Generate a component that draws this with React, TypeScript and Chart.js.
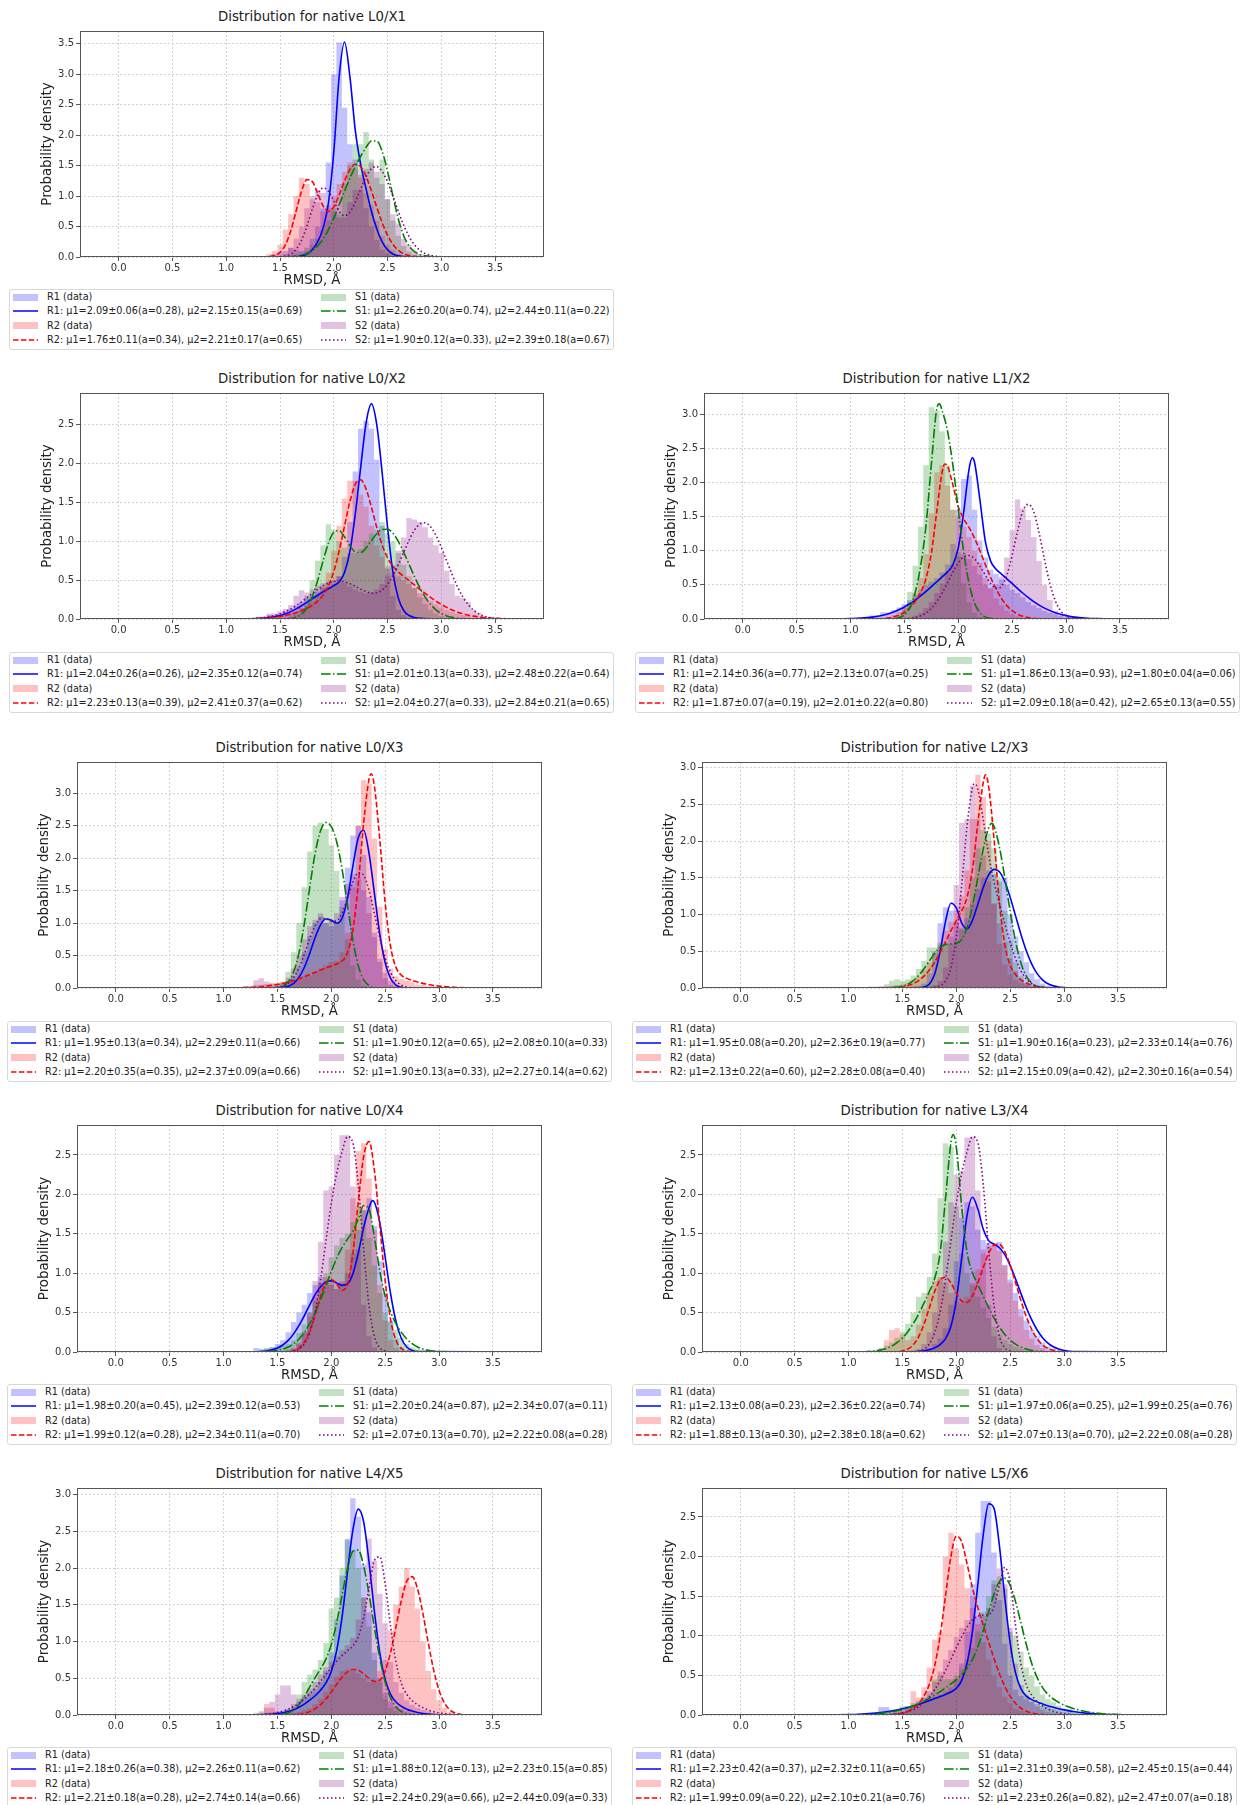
import React, { useEffect, useRef } from "react";
import { Chart, registerables } from "chart.js";

Chart.register(...registerables);

type P = [number, number][];

// ---------------- shared axis values ----------------
const X_TICKS = [0, 0.5, 1, 1.5, 2, 2.5, 3, 3.5];
const X_MIN = -0.36;
const X_MAX = 3.955;
const Y_TICKS_35 = [0, 0.5, 1, 1.5, 2, 2.5, 3, 3.5];
const Y_TICKS_30 = [0, 0.5, 1, 1.5, 2, 2.5, 3];
const Y_TICKS_25 = [0, 0.5, 1, 1.5, 2, 2.5];
const HIST_BIN = 0.05;
const SERIES = ["R1", "R2", "S1", "S2"];

// ---------------- L0/X1 ----------------
const L0X1_R1_HIST: P = [[1.45,.03],[1.5,.05],[1.55,.08],[1.6,.1],[1.65,.15],[1.7,.12],[1.75,.1],[1.8,.15],[1.85,.3],[1.9,.5],[1.95,.8],[2.0,1.55],[2.05,3.0],[2.1,3.52],[2.15,2.45],[2.2,1.85],[2.25,1.6],[2.3,1.1],[2.35,.8],[2.4,.5],[2.45,.28],[2.5,.12],[2.55,.06],[2.6,.03]];
const L0X1_R2_HIST: P = [[1.4,.02],[1.45,.05],[1.5,.1],[1.55,.2],[1.6,.45],[1.65,.7],[1.7,1.0],[1.75,1.3],[1.8,1.2],[1.85,.95],[1.9,.9],[1.95,.75],[2.0,.8],[2.05,1.0],[2.1,1.2],[2.15,1.4],[2.2,1.55],[2.25,1.45],[2.3,1.3],[2.35,1.05],[2.4,.85],[2.45,.6],[2.5,.35],[2.55,.2],[2.6,.12],[2.65,.05],[2.7,.02]];
const L0X1_S1_HIST: P = [[1.6,.01],[1.65,.02],[1.7,.04],[1.75,.06],[1.8,.1],[1.85,.2],[1.9,.3],[1.95,.45],[2.0,.6],[2.05,.8],[2.1,.7],[2.15,1.2],[2.2,1.5],[2.25,1.85],[2.3,1.85],[2.35,2.05],[2.4,1.6],[2.45,1.3],[2.5,1.6],[2.55,.95],[2.6,.6],[2.65,.35],[2.7,.18],[2.75,.09],[2.8,.04],[2.85,.02]];
const L0X1_S2_HIST: P = [[1.55,.02],[1.6,.05],[1.65,.15],[1.7,.3],[1.75,.5],[1.8,.8],[1.85,1.0],[1.9,1.1],[1.95,1.05],[2.0,.85],[2.05,.75],[2.1,.65],[2.15,.65],[2.2,.9],[2.25,1.1],[2.3,1.35],[2.35,1.45],[2.4,1.55],[2.45,1.4],[2.5,1.2],[2.55,.95],[2.6,.7],[2.65,.55],[2.7,.3],[2.75,.2],[2.8,.1],[2.85,.05],[2.9,.02]];
const L0X1_R1_FIT: P = [[1.65,.005],[1.7,.02],[1.75,.05],[1.8,.12],[1.85,.25],[1.9,.47],[1.95,.88],[2.0,1.72],[2.05,2.96],[2.1,3.53],[2.15,2.96],[2.2,2.08],[2.25,1.52],[2.3,1.12],[2.35,.75],[2.4,.46],[2.45,.25],[2.5,.12],[2.55,.05],[2.6,.02],[2.7,.004]];
const L0X1_R2_FIT: P = [[1.35,.002],[1.4,.01],[1.45,.023],[1.5,.075],[1.55,.2],[1.6,.43],[1.65,.755],[1.7,1.08],[1.75,1.27],[1.8,1.24],[1.85,1.045],[1.9,.84],[1.95,.75],[2.0,.825],[2.05,1.02],[2.1,1.25],[2.15,1.435],[2.2,1.522],[2.25,1.484],[2.3,1.326],[2.35,1.086],[2.4,.816],[2.45,.563],[2.5,.356],[2.55,.206],[2.6,.11],[2.65,.054],[2.7,.024],[2.75,.01],[2.8,.004]];
const L0X1_S1_FIT: P = [[1.55,.003],[1.6,.006],[1.65,.014],[1.7,.029],[1.75,.057],[1.8,.105],[1.85,.181],[1.9,.292],[1.95,.444],[2.0,.634],[2.05,.853],[2.1,1.08],[2.15,1.294],[2.2,1.485],[2.25,1.654],[2.3,1.8],[2.35,1.905],[2.4,1.903],[2.45,1.735],[2.5,1.407],[2.55,1.0],[2.6,.625],[2.65,.35],[2.7,.18],[2.75,.088],[2.8,.042],[2.85,.019],[2.9,.009],[2.95,.004],[3.0,.002]];
const L0X1_S2_FIT: P = [[1.45,.001],[1.5,.004],[1.55,.016],[1.6,.048],[1.65,.125],[1.7,.274],[1.75,.505],[1.8,.783],[1.85,1.022],[1.9,1.134],[1.95,1.081],[2.0,.918],[2.05,.751],[2.1,.678],[2.15,.736],[2.2,.899],[2.25,1.114],[2.3,1.315],[2.35,1.449],[2.4,1.483],[2.45,1.405],[2.5,1.232],[2.55,1.0],[2.6,.752],[2.65,.523],[2.7,.337],[2.75,.201],[2.8,.111],[2.85,.057],[2.9,.027],[2.95,.012],[3.0,.005]];
const L0X1_LABELS = ["R1: μ1=2.09±0.06(a=0.28), μ2=2.15±0.15(a=0.69)", "R2: μ1=1.76±0.11(a=0.34), μ2=2.21±0.17(a=0.65)", "S1: μ1=2.26±0.20(a=0.74), μ2=2.44±0.11(a=0.22)", "S2: μ1=1.90±0.12(a=0.33), μ2=2.39±0.18(a=0.67)"];

// ---------------- L0/X2 ----------------
const L0X2_R1_HIST: P = [[1.3,.01],[1.4,.02],[1.5,.05],[1.55,.07],[1.6,.1],[1.65,.13],[1.7,.17],[1.75,.22],[1.8,.27],[1.85,.3],[1.9,.35],[1.95,.4],[2.0,.42],[2.05,.45],[2.1,.55],[2.15,.8],[2.2,1.25],[2.25,1.9],[2.3,2.45],[2.35,2.55],[2.4,2.45],[2.45,2.05],[2.5,1.2],[2.55,.65],[2.6,.3],[2.65,.12],[2.7,.05],[2.75,.02]];
const L0X2_R2_HIST: P = [[1.4,.02],[1.5,.03],[1.55,.05],[1.6,.06],[1.65,.08],[1.7,.1],[1.75,.14],[1.8,.18],[1.85,.23],[1.9,.3],[1.95,.42],[2.0,.6],[2.05,.88],[2.1,1.2],[2.15,1.55],[2.2,1.78],[2.25,1.78],[2.3,1.6],[2.35,1.45],[2.4,1.2],[2.45,.95],[2.5,.8],[2.55,.68],[2.6,.6],[2.65,.55],[2.7,.5],[2.75,.45],[2.8,.4],[2.85,.33],[2.9,.28],[2.95,.23],[3.0,.19],[3.05,.15],[3.1,.12],[3.15,.09],[3.2,.07],[3.25,.05],[3.3,.04],[3.4,.02],[3.5,.01]];
const L0X2_S1_HIST: P = [[1.6,.01],[1.65,.03],[1.7,.06],[1.75,.14],[1.8,.3],[1.85,.5],[1.9,.75],[1.95,.95],[2.0,1.22],[2.05,1.15],[2.1,1.0],[2.15,.92],[2.2,.85],[2.25,.85],[2.3,.9],[2.35,1.0],[2.4,1.1],[2.45,1.15],[2.5,1.25],[2.55,1.1],[2.6,1.0],[2.65,.85],[2.7,.7],[2.75,.55],[2.8,.4],[2.85,.28],[2.9,.19],[2.95,.12],[3.0,.07],[3.05,.04],[3.1,.02]];
const L0X2_S2_HIST: P = [[1.3,.01],[1.4,.03],[1.5,.07],[1.55,.1],[1.6,.13],[1.65,.18],[1.7,.3],[1.75,.37],[1.8,.34],[1.85,.38],[1.9,.43],[1.95,.46],[2.0,.48],[2.05,.5],[2.1,.55],[2.15,.47],[2.2,.42],[2.25,.38],[2.3,.35],[2.35,.33],[2.4,.34],[2.45,.38],[2.5,.45],[2.55,.56],[2.6,.7],[2.65,.88],[2.7,1.05],[2.75,1.3],[2.8,1.28],[2.85,1.25],[2.9,1.18],[2.95,1.05],[3.0,.95],[3.05,.85],[3.1,.62],[3.15,.45],[3.2,.3],[3.25,.27],[3.3,.22],[3.35,.12],[3.4,.08],[3.45,.03],[3.5,.01]];
const L0X2_R1_FIT: P = [[1.1,.001],[1.2,.002],[1.3,.007],[1.4,.019],[1.5,.046],[1.55,.067],[1.6,.095],[1.65,.13],[1.7,.17],[1.75,.214],[1.8,.261],[1.85,.306],[1.9,.35],[1.95,.39],[2.0,.43],[2.05,.48],[2.1,.6],[2.15,.87],[2.2,1.35],[2.25,1.95],[2.3,2.52],[2.35,2.77],[2.4,2.5],[2.45,1.88],[2.5,1.18],[2.55,.6],[2.6,.27],[2.65,.11],[2.7,.045],[2.75,.02],[2.8,.008],[2.9,.002]];
const L0X2_R2_FIT: P = [[1.2,.003],[1.3,.007],[1.4,.016],[1.5,.032],[1.55,.045],[1.6,.061],[1.65,.081],[1.7,.106],[1.75,.137],[1.8,.177],[1.85,.23],[1.9,.307],[1.95,.427],[2.0,.612],[2.05,.876],[2.1,1.197],[2.15,1.513],[2.2,1.735],[2.25,1.792],[2.3,1.675],[2.35,1.442],[2.4,1.177],[2.45,.951],[2.5,.787],[2.55,.68],[2.6,.607],[2.65,.548],[2.7,.492],[2.75,.438],[2.8,.383],[2.85,.33],[2.9,.278],[2.95,.23],[3.0,.187],[3.05,.15],[3.1,.117],[3.2,.068],[3.3,.037],[3.4,.019],[3.5,.009],[3.6,.004],[3.7,.002],[3.8,.001]];
const L0X2_S1_FIT: P = [[1.5,.001],[1.55,.002],[1.6,.007],[1.65,.023],[1.7,.061],[1.75,.142],[1.8,.285],[1.85,.494],[1.9,.744],[1.95,.974],[2.0,1.117],[2.05,1.138],[2.1,1.058],[2.15,.944],[2.2,.864],[2.25,.856],[2.3,.915],[2.35,1.008],[2.4,1.097],[2.45,1.153],[2.5,1.156],[2.55,1.104],[2.6,1.0],[2.65,.861],[2.7,.704],[2.75,.547],[2.8,.403],[2.85,.282],[2.9,.188],[2.95,.118],[3.0,.071],[3.05,.04],[3.1,.022],[3.2,.005],[3.3,.001]];
const L0X2_S2_FIT: P = [[1.1,.001],[1.2,.004],[1.3,.011],[1.4,.029],[1.5,.066],[1.55,.094],[1.6,.129],[1.65,.172],[1.7,.221],[1.75,.274],[1.8,.329],[1.85,.38],[1.9,.426],[1.95,.461],[2.0,.482],[2.05,.488],[2.1,.479],[2.15,.455],[2.2,.421],[2.25,.384],[2.3,.352],[2.35,.333],[2.4,.337],[2.45,.374],[2.5,.447],[2.55,.558],[2.6,.7],[2.65,.858],[2.7,1.014],[2.75,1.142],[2.8,1.222],[2.85,1.239],[2.9,1.188],[2.95,1.077],[3.0,.924],[3.05,.749],[3.1,.574],[3.15,.416],[3.2,.284],[3.25,.184],[3.3,.112],[3.35,.065],[3.4,.035],[3.45,.018],[3.5,.009],[3.6,.002]];
const L0X2_LABELS = ["R1: μ1=2.04±0.26(a=0.26), μ2=2.35±0.12(a=0.74)", "R2: μ1=2.23±0.13(a=0.39), μ2=2.41±0.37(a=0.62)", "S1: μ1=2.01±0.13(a=0.33), μ2=2.48±0.22(a=0.64)", "S2: μ1=2.04±0.27(a=0.33), μ2=2.84±0.21(a=0.65)"];

// ---------------- L1/X2 ----------------
const L1X2_R1_HIST: P = [[1.1,.01],[1.2,.03],[1.3,.05],[1.4,.1],[1.45,.13],[1.5,.17],[1.55,.22],[1.6,.28],[1.65,.35],[1.7,.42],[1.75,.5],[1.8,.55],[1.85,.6],[1.9,.68],[1.95,.8],[2.0,1.1],[2.05,1.6],[2.1,2.05],[2.15,2.1],[2.2,1.6],[2.25,1.15],[2.3,.9],[2.35,.72],[2.4,.66],[2.45,.58],[2.5,.5],[2.55,.43],[2.6,.38],[2.65,.32],[2.7,.25],[2.75,.2],[2.8,.16],[2.85,.12],[2.9,.09],[2.95,.07],[3.0,.05],[3.05,.04],[3.1,.03],[3.2,.01]];
const L1X2_R2_HIST: P = [[1.35,.02],[1.4,.03],[1.45,.06],[1.5,.1],[1.55,.16],[1.6,.25],[1.65,.38],[1.7,.6],[1.75,.95],[1.8,1.55],[1.85,2.15],[1.9,2.25],[1.95,1.95],[2.0,1.6],[2.05,1.5],[2.1,1.35],[2.15,1.2],[2.2,1.0],[2.25,.82],[2.3,.6],[2.35,.45],[2.4,.3],[2.45,.2],[2.5,.12],[2.55,.07],[2.6,.04],[2.65,.02]];
const L1X2_S1_HIST: P = [[1.45,.02],[1.5,.06],[1.55,.17],[1.6,.4],[1.65,.78],[1.7,1.35],[1.75,2.25],[1.8,3.1],[1.85,3.05],[1.9,2.75],[1.95,2.25],[2.0,1.6],[2.05,.98],[2.1,.52],[2.15,.24],[2.2,.09],[2.25,.03],[2.3,.01]];
const L1X2_S2_HIST: P = [[1.55,.01],[1.6,.02],[1.65,.05],[1.7,.09],[1.75,.16],[1.8,.25],[1.85,.38],[1.9,.52],[1.95,.68],[2.0,.8],[2.05,.92],[2.1,.95],[2.15,.88],[2.2,.78],[2.25,.65],[2.3,.5],[2.35,.45],[2.4,.5],[2.45,.62],[2.5,.9],[2.55,1.3],[2.6,1.75],[2.65,1.62],[2.7,1.45],[2.75,1.2],[2.8,.85],[2.85,.5],[2.9,.28],[2.95,.12],[3.0,.05],[3.05,.02]];
const L1X2_R1_FIT: P = [[0.9,.002],[1.0,.006],[1.1,.013],[1.2,.028],[1.3,.056],[1.4,.103],[1.5,.176],[1.55,.223],[1.6,.277],[1.65,.338],[1.7,.404],[1.75,.474],[1.8,.546],[1.85,.617],[1.9,.69],[1.95,.794],[2.0,1.045],[2.05,1.568],[2.1,2.2],[2.13,2.36],[2.15,2.3],[2.2,1.75],[2.25,1.142],[2.3,.848],[2.35,.73],[2.4,.658],[2.45,.589],[2.5,.518],[2.55,.446],[2.6,.377],[2.65,.313],[2.7,.254],[2.75,.203],[2.8,.159],[2.9,.092],[3.0,.049],[3.1,.024],[3.2,.011],[3.3,.005],[3.4,.002]];
const L1X2_R2_FIT: P = [[1.25,.004],[1.3,.008],[1.35,.016],[1.4,.031],[1.45,.057],[1.5,.099],[1.55,.163],[1.6,.256],[1.65,.389],[1.7,.594],[1.75,.971],[1.8,1.577],[1.85,2.154],[1.875,2.27],[1.9,2.24],[1.95,1.96],[2.0,1.642],[2.05,1.467],[2.1,1.339],[2.15,1.185],[2.2,.999],[2.25,.8],[2.3,.608],[2.35,.44],[2.4,.301],[2.45,.196],[2.5,.121],[2.55,.071],[2.6,.04],[2.65,.021],[2.7,.011],[2.75,.005],[2.8,.002]];
const L1X2_S1_FIT: P = [[1.35,.001],[1.4,.005],[1.45,.02],[1.5,.062],[1.55,.166],[1.6,.386],[1.65,.775],[1.7,1.365],[1.75,2.27],[1.8,3.08],[1.825,3.15],[1.85,3.05],[1.9,2.75],[1.95,2.247],[2.0,1.598],[2.05,.982],[2.1,.519],[2.15,.237],[2.2,.093],[2.25,.031],[2.3,.009],[2.35,.002]];
const L1X2_S2_FIT: P = [[1.45,.001],[1.5,.004],[1.55,.01],[1.6,.023],[1.65,.047],[1.7,.089],[1.75,.156],[1.8,.254],[1.85,.383],[1.9,.533],[1.95,.688],[2.0,.822],[2.05,.909],[2.1,.929],[2.15,.882],[2.2,.777],[2.25,.643],[2.3,.516],[2.35,.446],[2.4,.477],[2.45,.642],[2.5,.938],[2.55,1.291],[2.6,1.585],[2.65,1.68],[2.7,1.571],[2.75,1.256],[2.8,.868],[2.85,.516],[2.9,.266],[2.95,.118],[3.0,.045],[3.05,.015],[3.1,.004]];
const L1X2_LABELS = ["R1: μ1=2.14±0.36(a=0.77), μ2=2.13±0.07(a=0.25)", "R2: μ1=1.87±0.07(a=0.19), μ2=2.01±0.22(a=0.80)", "S1: μ1=1.86±0.13(a=0.93), μ2=1.80±0.04(a=0.06)", "S2: μ1=2.09±0.18(a=0.42), μ2=2.65±0.13(a=0.55)"];

// ---------------- L0/X3 ----------------
const L0X3_R1_HIST: P = [[1.45,.01],[1.5,.02],[1.55,.03],[1.6,.05],[1.65,.1],[1.7,.18],[1.75,.32],[1.8,.55],[1.85,.8],[1.9,1.0],[1.95,1.1],[2.0,1.0],[2.05,.95],[2.1,1.0],[2.15,1.35],[2.2,1.85],[2.25,2.35],[2.3,2.5],[2.35,2.05],[2.4,1.4],[2.45,.85],[2.5,.4],[2.55,.15],[2.6,.05],[2.65,.02]];
const L0X3_R2_HIST: P = [[1.2,.01],[1.3,.03],[1.4,.05],[1.5,.06],[1.6,.08],[1.65,.1],[1.7,.12],[1.75,.15],[1.8,.18],[1.85,.2],[1.9,.25],[1.95,.3],[2.0,.35],[2.05,.4],[2.1,.42],[2.15,.55],[2.2,.85],[2.25,1.55],[2.3,2.5],[2.35,3.2],[2.4,3.15],[2.45,2.3],[2.5,1.25],[2.55,.6],[2.6,.3],[2.65,.18],[2.7,.14],[2.75,.11],[2.8,.09],[2.9,.05],[3.0,.03],[3.1,.01]];
const L0X3_S1_HIST: P = [[1.5,.01],[1.55,.03],[1.6,.1],[1.65,.25],[1.7,.55],[1.75,1.0],[1.8,1.55],[1.85,2.1],[1.9,2.5],[1.95,2.55],[2.0,2.45],[2.05,2.2],[2.1,1.8],[2.15,1.25],[2.2,.75],[2.25,.35],[2.3,.13],[2.35,.04],[2.4,.01]];
const L0X3_S2_HIST: P = [[1.3,.08],[1.35,.12],[1.4,.15],[1.45,.1],[1.5,.08],[1.55,.06],[1.6,.08],[1.65,.16],[1.7,.3],[1.75,.5],[1.8,.75],[1.85,.95],[1.9,1.05],[1.95,1.15],[2.0,1.0],[2.05,1.05],[2.1,1.15],[2.15,1.4],[2.2,1.6],[2.25,1.75],[2.3,1.7],[2.35,1.5],[2.4,1.15],[2.45,.78],[2.5,.45],[2.55,.24],[2.6,.11],[2.65,.05],[2.7,.02]];
const L0X3_R1_FIT: P = [[1.45,.001],[1.5,.003],[1.55,.009],[1.6,.028],[1.65,.073],[1.7,.164],[1.75,.319],[1.8,.536],[1.85,.777],[1.9,.973],[1.95,1.063],[2.0,1.043],[2.05,.998],[2.1,1.075],[2.15,1.384],[2.2,1.878],[2.25,2.314],[2.3,2.43],[2.35,2.073],[2.4,1.455],[2.45,.831],[2.5,.387],[2.55,.147],[2.6,.045],[2.65,.011],[2.7,.002]];
const L0X3_R2_FIT: P = [[0.9,.001],[1.0,.001],[1.1,.003],[1.2,.007],[1.3,.015],[1.4,.029],[1.5,.054],[1.6,.092],[1.65,.116],[1.7,.144],[1.75,.174],[1.8,.207],[1.85,.242],[1.9,.276],[1.95,.309],[2.0,.34],[2.05,.369],[2.1,.415],[2.15,.542],[2.2,.891],[2.25,1.598],[2.3,2.545],[2.35,3.22],[2.37,3.3],[2.4,3.107],[2.45,2.281],[2.5,1.306],[2.55,.638],[2.6,.318],[2.65,.197],[2.7,.148],[2.75,.116],[2.8,.092],[2.9,.054],[3.0,.029],[3.1,.015],[3.2,.007],[3.3,.003],[3.4,.001]];
const L0X3_S1_FIT: P = [[1.45,.002],[1.5,.008],[1.55,.031],[1.6,.095],[1.65,.247],[1.7,.539],[1.75,.995],[1.8,1.554],[1.85,2.075],[1.9,2.422],[1.95,2.548],[2.0,2.484],[2.05,2.248],[2.1,1.828],[2.15,1.278],[2.2,.736],[2.25,.342],[2.3,.125],[2.35,.036],[2.4,.008],[2.45,.001]];
const L0X3_S2_FIT: P = [[1.4,.001],[1.45,.003],[1.5,.009],[1.55,.027],[1.6,.071],[1.65,.159],[1.7,.31],[1.75,.522],[1.8,.759],[1.85,.959],[1.9,1.067],[1.95,1.07],[2.0,1.028],[2.05,1.034],[2.1,1.156],[2.15,1.383],[2.2,1.63],[2.25,1.776],[2.3,1.735],[2.35,1.503],[2.4,1.148],[2.45,.772],[2.5,.458],[2.55,.239],[2.6,.11],[2.65,.045],[2.7,.016],[2.75,.005]];
const L0X3_LABELS = ["R1: μ1=1.95±0.13(a=0.34), μ2=2.29±0.11(a=0.66)", "R2: μ1=2.20±0.35(a=0.35), μ2=2.37±0.09(a=0.66)", "S1: μ1=1.90±0.12(a=0.65), μ2=2.08±0.10(a=0.33)", "S2: μ1=1.90±0.13(a=0.33), μ2=2.27±0.14(a=0.62)"];

// ---------------- L2/X3 ----------------
const L2X3_R1_HIST: P = [[1.6,.01],[1.65,.02],[1.7,.03],[1.75,.06],[1.8,.2],[1.85,.5],[1.9,.88],[1.95,1.1],[2.0,1.05],[2.05,.88],[2.1,.8],[2.15,.95],[2.2,1.15],[2.25,1.35],[2.3,1.5],[2.35,1.6],[2.4,1.55],[2.45,1.45],[2.5,1.5],[2.55,1.0],[2.6,.7],[2.65,.5],[2.7,.35],[2.75,.2],[2.8,.12],[2.85,.06],[2.9,.03],[2.95,.01]];
const L2X3_R2_HIST: P = [[1.3,.01],[1.4,.02],[1.45,.03],[1.5,.04],[1.55,.05],[1.6,.07],[1.65,.1],[1.7,.16],[1.75,.25],[1.8,.35],[1.85,.48],[1.9,.62],[1.95,.78],[2.0,.9],[2.05,1.05],[2.1,1.25],[2.15,1.6],[2.2,2.3],[2.25,2.9],[2.3,2.6],[2.35,2.0],[2.4,1.15],[2.45,.6],[2.5,.32],[2.55,.18],[2.6,.11],[2.65,.07],[2.7,.04],[2.75,.02],[2.8,.01]];
const L2X3_S1_HIST: P = [[1.35,.02],[1.4,.05],[1.45,.1],[1.5,.12],[1.55,.1],[1.6,.12],[1.65,.17],[1.7,.26],[1.75,.37],[1.8,.55],[1.85,.55],[1.9,.58],[1.95,.6],[2.0,.6],[2.05,.65],[2.1,.82],[2.15,1.1],[2.2,1.5],[2.25,1.9],[2.3,2.15],[2.35,2.1],[2.4,1.9],[2.45,1.5],[2.5,1.05],[2.55,.65],[2.6,.35],[2.65,.16],[2.7,.07],[2.75,.03],[2.8,.01]];
const L2X3_S2_HIST: P = [[1.2,.01],[1.3,.02],[1.4,.02],[1.5,.02],[1.6,.02],[1.7,.02],[1.75,.02],[1.8,.02],[1.85,.04],[1.9,.1],[1.95,.28],[2.0,.7],[2.05,1.4],[2.1,2.25],[2.15,2.3],[2.2,2.75],[2.25,2.3],[2.3,1.8],[2.35,1.45],[2.4,1.15],[2.45,.88],[2.5,.62],[2.55,.4],[2.6,.23],[2.65,.12],[2.7,.06],[2.75,.03],[2.8,.01]];
const L2X3_R1_FIT: P = [[1.6,.001],[1.65,.002],[1.7,.012],[1.75,.053],[1.8,.193],[1.85,.501],[1.9,.907],[1.95,1.154],[2.0,1.089],[2.05,.884],[2.1,.806],[2.15,.922],[2.2,1.141],[2.25,1.368],[2.3,1.538],[2.35,1.614],[2.4,1.581],[2.45,1.445],[2.5,1.233],[2.55,.981],[2.6,.727],[2.65,.504],[2.7,.326],[2.75,.196],[2.8,.111],[2.85,.058],[2.9,.029],[2.95,.013],[3.0,.005],[3.05,.002]];
const L2X3_R2_FIT: P = [[1.35,.002],[1.4,.004],[1.45,.009],[1.5,.018],[1.55,.034],[1.6,.06],[1.65,.101],[1.7,.161],[1.75,.245],[1.8,.353],[1.85,.484],[1.9,.63],[1.95,.78],[2.0,.918],[2.05,1.051],[2.1,1.237],[2.15,1.617],[2.2,2.245],[2.25,2.797],[2.27,2.9],[2.3,2.741],[2.35,2.021],[2.4,1.16],[2.45,.587],[2.5,.309],[2.55,.183],[2.6,.111],[2.65,.067],[2.7,.038],[2.75,.021],[2.8,.011],[2.85,.005]];
const L2X3_S1_FIT: P = [[1.35,.002],[1.4,.004],[1.45,.011],[1.5,.025],[1.55,.052],[1.6,.099],[1.65,.169],[1.7,.263],[1.75,.369],[1.8,.474],[1.85,.552],[1.9,.592],[1.95,.601],[2.0,.607],[2.05,.662],[2.1,.824],[2.15,1.116],[2.2,1.507],[2.25,1.891],[2.3,2.18],[2.33,2.24],[2.35,2.2],[2.4,1.915],[2.45,1.501],[2.5,1.037],[2.55,.63],[2.6,.338],[2.65,.159],[2.7,.066],[2.75,.024],[2.8,.008],[2.85,.002]];
const L2X3_S2_FIT: P = [[1.7,.001],[1.75,.004],[1.8,.011],[1.85,.033],[1.9,.098],[1.95,.281],[2.0,.696],[2.05,1.401],[2.1,2.212],[2.15,2.729],[2.17,2.78],[2.2,2.704],[2.25,2.286],[2.3,1.81],[2.35,1.44],[2.4,1.147],[2.45,.874],[2.5,.617],[2.55,.397],[2.6,.232],[2.65,.123],[2.7,.059],[2.75,.026],[2.8,.01],[2.85,.004]];
const L2X3_LABELS = ["R1: μ1=1.95±0.08(a=0.20), μ2=2.36±0.19(a=0.77)", "R2: μ1=2.13±0.22(a=0.60), μ2=2.28±0.08(a=0.40)", "S1: μ1=1.90±0.16(a=0.23), μ2=2.33±0.14(a=0.76)", "S2: μ1=2.15±0.09(a=0.42), μ2=2.30±0.16(a=0.54)"];

// ---------------- L0/X4 ----------------
const L0X4_R1_HIST: P = [[1.3,.03],[1.35,.05],[1.4,.03],[1.45,.04],[1.5,.06],[1.55,.1],[1.6,.15],[1.65,.25],[1.7,.38],[1.75,.5],[1.8,.6],[1.85,.75],[1.9,.85],[1.95,.95],[2.0,.9],[2.05,.85],[2.1,.8],[2.15,.88],[2.2,1.0],[2.25,1.25],[2.3,1.55],[2.35,1.8],[2.4,1.95],[2.45,1.6],[2.5,1.15],[2.55,.75],[2.6,.4],[2.65,.17],[2.7,.06],[2.75,.02]];
const L0X4_R2_HIST: P = [[1.55,.01],[1.6,.01],[1.65,.02],[1.7,.05],[1.75,.12],[1.8,.25],[1.85,.45],[1.9,.7],[1.95,.88],[2.0,.95],[2.05,.88],[2.1,.8],[2.15,.9],[2.2,1.3],[2.25,1.95],[2.3,2.55],[2.35,2.65],[2.4,2.2],[2.45,1.55],[2.5,.85],[2.55,.4],[2.6,.15],[2.65,.05],[2.7,.01]];
const L0X4_S1_HIST: P = [[1.35,.02],[1.4,.04],[1.45,.05],[1.5,.06],[1.55,.06],[1.6,.08],[1.65,.1],[1.7,.15],[1.75,.24],[1.8,.35],[1.85,.5],[1.9,.65],[1.95,.85],[2.0,1.0],[2.05,1.2],[2.1,1.35],[2.15,1.45],[2.2,1.5],[2.25,1.65],[2.3,1.85],[2.35,1.8],[2.4,1.45],[2.45,1.1],[2.5,.75],[2.55,.5],[2.6,.38],[2.65,.28],[2.7,.18],[2.75,.1],[2.8,.06],[2.85,.04],[2.9,.02],[2.95,.01]];
const L0X4_S2_HIST: P = [[1.6,.01],[1.65,.02],[1.7,.04],[1.75,.1],[1.8,.25],[1.85,.5],[1.9,.9],[1.95,1.4],[2.0,2.05],[2.05,2.1],[2.1,2.5],[2.15,2.75],[2.2,2.75],[2.25,2.1],[2.3,1.3],[2.35,.6],[2.4,.2],[2.45,.06],[2.5,.01]];
const L0X4_R1_FIT: P = [[1.25,.002],[1.3,.003],[1.35,.006],[1.4,.013],[1.45,.027],[1.5,.05],[1.55,.089],[1.6,.147],[1.65,.23],[1.7,.337],[1.75,.463],[1.8,.599],[1.85,.727],[1.9,.829],[1.95,.89],[2.0,.902],[2.05,.877],[2.1,.845],[2.15,.864],[2.2,.993],[2.25,1.253],[2.3,1.58],[2.35,1.829],[2.38,1.92],[2.4,1.9],[2.45,1.64],[2.5,1.2],[2.55,.739],[2.6,.388],[2.65,.171],[2.7,.064],[2.75,.02],[2.8,.005]];
const L0X4_R2_FIT: P = [[1.5,.001],[1.55,.001],[1.6,.005],[1.65,.017],[1.7,.05],[1.75,.126],[1.8,.266],[1.85,.471],[1.9,.704],[1.95,.88],[2.0,.92],[2.05,.86],[2.1,.78],[2.15,.86],[2.2,1.25],[2.25,1.9],[2.3,2.48],[2.35,2.67],[2.4,2.3],[2.45,1.6],[2.5,.9],[2.55,.41],[2.6,.15],[2.65,.045],[2.7,.011],[2.75,.002]];
const L0X4_S1_FIT: P = [[1.25,.001],[1.3,.002],[1.35,.003],[1.4,.006],[1.45,.011],[1.5,.021],[1.55,.037],[1.6,.063],[1.65,.105],[1.7,.165],[1.75,.249],[1.8,.36],[1.85,.5],[1.9,.662],[1.95,.84],[2.0,1.022],[2.05,1.19],[2.1,1.328],[2.15,1.431],[2.2,1.531],[2.25,1.689],[2.3,1.858],[2.35,1.811],[2.4,1.457],[2.45,1.022],[2.5,.708],[2.55,.507],[2.6,.36],[2.65,.249],[2.7,.165],[2.75,.105],[2.8,.063],[2.85,.037],[2.9,.021],[2.95,.011],[3.0,.006],[3.1,.001]];
const L0X4_S2_FIT: P = [[1.55,.001],[1.6,.003],[1.65,.012],[1.7,.037],[1.75,.104],[1.8,.249],[1.85,.513],[1.9,.913],[1.95,1.408],[2.0,1.89],[2.05,2.268],[2.1,2.545],[2.15,2.731],[2.2,2.656],[2.25,2.124],[2.3,1.296],[2.35,.584],[2.4,.197],[2.45,.053],[2.5,.012],[2.55,.002]];
const L0X4_LABELS = ["R1: μ1=1.98±0.20(a=0.45), μ2=2.39±0.12(a=0.53)", "R2: μ1=1.99±0.12(a=0.28), μ2=2.34±0.11(a=0.70)", "S1: μ1=2.20±0.24(a=0.87), μ2=2.34±0.07(a=0.11)", "S2: μ1=2.07±0.13(a=0.70), μ2=2.22±0.08(a=0.28)"];

// ---------------- L3/X4 ----------------
const L3X4_R1_HIST: P = [[1.6,.01],[1.7,.02],[1.75,.03],[1.8,.05],[1.85,.1],[1.9,.17],[1.95,.3],[2.0,.6],[2.05,1.15],[2.1,1.7],[2.15,1.9],[2.2,1.85],[2.25,1.55],[2.3,1.42],[2.35,1.38],[2.4,1.35],[2.45,1.4],[2.5,1.1],[2.55,.92],[2.6,.75],[2.65,.55],[2.7,.4],[2.75,.28],[2.8,.2],[2.85,.12],[2.9,.07],[2.95,.04],[3.0,.02]];
const L3X4_R2_HIST: P = [[1.35,.05],[1.4,.15],[1.45,.28],[1.5,.3],[1.55,.22],[1.6,.15],[1.65,.2],[1.7,.35],[1.75,.55],[1.8,.75],[1.85,.9],[1.9,.95],[1.95,.88],[2.0,.75],[2.05,.65],[2.1,.62],[2.15,.7],[2.2,.88],[2.25,1.05],[2.3,1.25],[2.35,1.35],[2.4,1.38],[2.45,1.28],[2.5,1.1],[2.55,.88],[2.6,.65],[2.65,.45],[2.7,.28],[2.75,.17],[2.8,.09],[2.85,.05],[2.9,.02]];
const L3X4_S1_HIST: P = [[1.2,.01],[1.25,.02],[1.3,.03],[1.35,.05],[1.4,.08],[1.45,.12],[1.5,.18],[1.55,.26],[1.6,.36],[1.65,.5],[1.7,.7],[1.75,.75],[1.8,.95],[1.85,1.25],[1.9,1.95],[1.95,2.65],[2.0,2.6],[2.05,1.85],[2.1,1.25],[2.15,1.0],[2.2,.85],[2.25,.7],[2.3,.56],[2.35,.43],[2.4,.32],[2.45,.22],[2.5,.15],[2.55,.1],[2.6,.06],[2.65,.04],[2.7,.02],[2.75,.01]];
const L3X4_S2_HIST: P = [[1.6,.01],[1.65,.02],[1.7,.04],[1.75,.1],[1.8,.25],[1.85,.5],[1.9,.92],[1.95,1.4],[2.0,1.9],[2.05,2.25],[2.1,2.3],[2.15,2.72],[2.2,2.72],[2.25,2.05],[2.3,1.3],[2.35,.6],[2.4,.2],[2.45,.05],[2.5,.01]];
const L3X4_R1_FIT: P = [[1.55,.001],[1.6,.003],[1.65,.007],[1.7,.015],[1.75,.029],[1.8,.053],[1.85,.094],[1.9,.17],[1.95,.327],[2.0,.658],[2.05,1.193],[2.1,1.737],[2.15,1.963],[2.2,1.813],[2.25,1.556],[2.3,1.413],[2.35,1.367],[2.4,1.323],[2.45,1.235],[2.5,1.096],[2.55,.925],[2.6,.741],[2.65,.562],[2.7,.407],[2.75,.279],[2.8,.182],[2.85,.112],[2.9,.066],[2.95,.037],[3.0,.019],[3.05,.01],[3.1,.005]];
const L3X4_R2_FIT: P = [[1.4,.001],[1.45,.004],[1.5,.013],[1.55,.037],[1.6,.09],[1.65,.192],[1.7,.354],[1.75,.561],[1.8,.77],[1.85,.915],[1.9,.949],[1.95,.875],[2.0,.749],[2.05,.647],[2.1,.629],[2.15,.714],[2.2,.877],[2.25,1.074],[2.3,1.25],[2.35,1.355],[2.4,1.366],[2.45,1.274],[2.5,1.101],[2.55,.879],[2.6,.651],[2.65,.446],[2.7,.283],[2.75,.166],[2.8,.09],[2.85,.045],[2.9,.021],[2.95,.009],[3.0,.004]];
const L3X4_S1_FIT: P = [[1.1,.002],[1.15,.004],[1.2,.008],[1.25,.015],[1.3,.027],[1.35,.046],[1.4,.075],[1.45,.118],[1.5,.178],[1.55,.258],[1.6,.359],[1.65,.481],[1.7,.619],[1.75,.767],[1.8,.938],[1.85,1.262],[1.9,1.95],[1.95,2.66],[1.97,2.76],[2.0,2.6],[2.05,1.84],[2.1,1.26],[2.15,1.006],[2.2,.855],[2.25,.706],[2.3,.562],[2.35,.43],[2.4,.316],[2.45,.223],[2.5,.151],[2.55,.099],[2.6,.062],[2.65,.037],[2.7,.021],[2.75,.012],[2.8,.006],[2.9,.002]];
const L3X4_S2_FIT: P = [[1.55,.001],[1.6,.003],[1.65,.012],[1.7,.037],[1.75,.104],[1.8,.249],[1.85,.513],[1.9,.913],[1.95,1.408],[2.0,1.89],[2.05,2.268],[2.1,2.545],[2.15,2.731],[2.2,2.656],[2.25,2.124],[2.3,1.296],[2.35,.584],[2.4,.197],[2.45,.053],[2.5,.012],[2.55,.002]];
const L3X4_LABELS = ["R1: μ1=2.13±0.08(a=0.23), μ2=2.36±0.22(a=0.74)", "R2: μ1=1.88±0.13(a=0.30), μ2=2.38±0.18(a=0.62)", "S1: μ1=1.97±0.06(a=0.25), μ2=1.99±0.25(a=0.76)", "S2: μ1=2.07±0.13(a=0.70), μ2=2.22±0.08(a=0.28)"];

// ---------------- L4/X5 ----------------
const L4X5_R1_HIST: P = [[1.4,.02],[1.5,.03],[1.55,.04],[1.6,.05],[1.65,.08],[1.7,.12],[1.75,.18],[1.8,.25],[1.85,.3],[1.9,.35],[1.95,.45],[2.0,.6],[2.05,.85],[2.1,1.3],[2.15,1.9],[2.2,2.4],[2.25,2.95],[2.3,2.7],[2.35,2.05],[2.4,1.4],[2.45,.85],[2.5,.5],[2.55,.3],[2.6,.18],[2.65,.12],[2.7,.08],[2.75,.05],[2.8,.03],[2.9,.01]];
const L4X5_R2_HIST: P = [[1.4,.05],[1.45,.15],[1.5,.1],[1.55,.05],[1.6,.02],[1.65,.02],[1.7,.03],[1.75,.04],[1.8,.06],[1.85,.09],[1.9,.15],[1.95,.22],[2.0,.32],[2.05,.42],[2.1,.52],[2.15,.6],[2.2,.62],[2.25,.6],[2.3,.56],[2.35,.5],[2.4,.45],[2.45,.48],[2.5,.6],[2.55,.75],[2.6,1.15],[2.65,1.5],[2.7,1.75],[2.75,2.0],[2.8,1.75],[2.85,1.45],[2.9,1.0],[2.95,.6],[3.0,.35],[3.05,.2],[3.1,.1],[3.15,.04],[3.2,.01]];
const L4X5_S1_HIST: P = [[1.3,.02],[1.35,.03],[1.4,.03],[1.45,.02],[1.5,.02],[1.55,.02],[1.6,.04],[1.65,.07],[1.7,.15],[1.75,.28],[1.8,.45],[1.85,.55],[1.9,.62],[1.95,.75],[2.0,.98],[2.05,1.45],[2.1,1.6],[2.15,2.0],[2.2,2.38],[2.25,2.25],[2.3,2.0],[2.35,1.6],[2.4,1.2],[2.45,.75],[2.5,.45],[2.55,.22],[2.6,.1],[2.65,.05],[2.7,.02]];
const L4X5_S2_HIST: P = [[1.35,.02],[1.4,.05],[1.45,.1],[1.5,.18],[1.55,.28],[1.6,.4],[1.65,.4],[1.7,.28],[1.75,.22],[1.8,.28],[1.85,.36],[1.9,.45],[1.95,.55],[2.0,.65],[2.05,.72],[2.1,.8],[2.15,.88],[2.2,.95],[2.25,1.05],[2.3,1.3],[2.35,1.6],[2.4,2.4],[2.45,2.1],[2.5,1.65],[2.55,1.25],[2.6,.72],[2.65,.45],[2.7,.3],[2.75,.2],[2.8,.14],[2.85,.1],[2.9,.07],[2.95,.05],[3.0,.03],[3.1,.01]];
const L4X5_R1_FIT: P = [[1.3,.003],[1.35,.004],[1.4,.006],[1.45,.011],[1.5,.019],[1.55,.031],[1.6,.048],[1.65,.073],[1.7,.106],[1.75,.148],[1.8,.201],[1.85,.262],[1.9,.337],[1.95,.437],[2.0,.597],[2.05,.879],[2.1,1.336],[2.15,1.943],[2.2,2.52],[2.25,2.802],[2.3,2.629],[2.35,2.081],[2.4,1.409],[2.45,.846],[2.5,.481],[2.55,.282],[2.6,.177],[2.65,.119],[2.7,.079],[2.75,.053],[2.8,.034],[2.85,.021],[2.9,.013],[3.0,.004],[3.1,.001]];
const L4X5_R2_FIT: P = [[1.6,.002],[1.65,.005],[1.7,.011],[1.75,.024],[1.8,.046],[1.85,.084],[1.9,.141],[1.95,.218],[2.0,.314],[2.05,.418],[2.1,.515],[2.15,.587],[2.2,.62],[2.25,.61],[2.3,.562],[2.35,.498],[2.4,.455],[2.45,.475],[2.5,.602],[2.55,.853],[2.6,1.2],[2.65,1.56],[2.7,1.821],[2.75,1.883],[2.8,1.718],[2.85,1.381],[2.9,.978],[2.95,.611],[3.0,.335],[3.05,.162],[3.1,.069],[3.15,.026],[3.2,.008],[3.25,.002]];
const L4X5_S1_FIT: P = [[1.4,.001],[1.45,.001],[1.5,.003],[1.55,.01],[1.6,.028],[1.65,.07],[1.7,.144],[1.75,.254],[1.8,.383],[1.85,.51],[1.9,.627],[1.95,.761],[2.0,.961],[2.05,1.259],[2.1,1.633],[2.15,1.997],[2.2,2.228],[2.25,2.245],[2.3,2.028],[2.35,1.642],[2.4,1.189],[2.45,.771],[2.5,.448],[2.55,.232],[2.6,.108],[2.65,.045],[2.7,.017],[2.75,.005]];
const L4X5_S2_FIT: P = [[1.2,.002],[1.3,.005],[1.35,.008],[1.4,.014],[1.45,.022],[1.5,.035],[1.55,.054],[1.6,.079],[1.65,.115],[1.7,.16],[1.75,.218],[1.8,.287],[1.85,.368],[1.9,.457],[1.95,.551],[2.0,.645],[2.05,.733],[2.1,.809],[2.15,.873],[2.2,.941],[2.25,1.065],[2.3,1.325],[2.35,1.732],[2.4,2.105],[2.45,2.153],[2.5,1.779],[2.55,1.206],[2.6,.721],[2.65,.43],[2.7,.281],[2.75,.196],[2.8,.141],[2.85,.1],[2.9,.068],[2.95,.045],[3.0,.029],[3.1,.011],[3.2,.004]];
const L4X5_LABELS = ["R1: μ1=2.18±0.26(a=0.38), μ2=2.26±0.11(a=0.62)", "R2: μ1=2.21±0.18(a=0.28), μ2=2.74±0.14(a=0.66)", "S1: μ1=1.88±0.12(a=0.13), μ2=2.23±0.15(a=0.85)", "S2: μ1=2.24±0.29(a=0.66), μ2=2.44±0.09(a=0.33)"];

// ---------------- L5/X6 ----------------
const L5X6_R1_HIST: P = [[1.0,.01],[1.1,.01],[1.2,.02],[1.3,.03],[1.4,.1],[1.45,.05],[1.5,.07],[1.55,.09],[1.6,.11],[1.65,.13],[1.7,.16],[1.75,.18],[1.8,.2],[1.85,.23],[1.9,.26],[1.95,.3],[2.0,.35],[2.05,.45],[2.1,.65],[2.15,1.05],[2.2,1.65],[2.25,2.3],[2.3,2.7],[2.35,2.7],[2.4,2.05],[2.45,1.45],[2.5,.9],[2.55,.5],[2.6,.32],[2.65,.24],[2.7,.2],[2.75,.17],[2.8,.14],[2.85,.12],[2.9,.1],[2.95,.08],[3.0,.06],[3.1,.04],[3.2,.02],[3.3,.01]];
const L5X6_R2_HIST: P = [[1.4,.01],[1.45,.02],[1.5,.03],[1.55,.05],[1.6,.1],[1.65,.3],[1.7,.22],[1.75,.35],[1.8,.6],[1.85,.95],[1.9,1.05],[1.95,2.0],[2.0,2.3],[2.05,2.1],[2.1,1.9],[2.15,1.6],[2.2,1.35],[2.25,1.15],[2.3,.92],[2.35,.7],[2.4,.5],[2.45,.35],[2.5,.23],[2.55,.15],[2.6,.08],[2.65,.05],[2.7,.03],[2.75,.01]];
const L5X6_S1_HIST: P = [[1.2,.01],[1.3,.02],[1.4,.04],[1.5,.07],[1.6,.11],[1.65,.15],[1.7,.18],[1.75,.22],[1.8,.26],[1.85,.45],[1.9,.5],[1.95,.45],[2.0,.45],[2.05,.5],[2.1,.58],[2.15,.7],[2.2,.85],[2.25,1.05],[2.3,1.3],[2.35,1.5],[2.4,1.7],[2.45,1.75],[2.5,1.6],[2.55,1.05],[2.6,1.0],[2.65,.8],[2.7,.6],[2.75,.5],[2.8,.36],[2.85,.26],[2.9,.2],[2.95,.16],[3.0,.12],[3.1,.08],[3.2,.04],[3.3,.02],[3.4,.01]];
const L5X6_S2_HIST: P = [[1.4,.01],[1.45,.02],[1.5,.03],[1.55,.04],[1.6,.06],[1.65,.1],[1.7,.15],[1.75,.22],[1.8,.3],[1.85,.42],[1.9,.55],[1.95,.7],[2.0,.82],[2.05,.98],[2.1,1.1],[2.15,1.2],[2.2,1.5],[2.25,1.25],[2.3,1.25],[2.35,1.35],[2.4,1.65],[2.45,1.85],[2.5,1.65],[2.55,1.1],[2.6,.65],[2.65,.38],[2.7,.25],[2.75,.17],[2.8,.11],[2.85,.07],[2.9,.04],[2.95,.03],[3.0,.02]];
const L5X6_R1_FIT: P = [[0.8,.001],[0.9,.002],[1.0,.005],[1.1,.009],[1.2,.017],[1.3,.03],[1.4,.05],[1.5,.078],[1.6,.114],[1.7,.159],[1.8,.208],[1.85,.233],[1.9,.26],[1.95,.29],[2.0,.337],[2.05,.437],[2.1,.654],[2.15,1.059],[2.2,1.652],[2.25,2.277],[2.3,2.665],[2.35,2.608],[2.4,2.134],[2.45,1.48],[2.5,.904],[2.55,.528],[2.6,.33],[2.65,.239],[2.7,.194],[2.8,.14],[2.9,.098],[3.0,.065],[3.1,.041],[3.2,.024],[3.3,.014],[3.4,.007],[3.5,.004],[3.6,.002]];
const L5X6_R2_FIT: P = [[1.35,.003],[1.4,.006],[1.45,.012],[1.5,.024],[1.55,.047],[1.6,.085],[1.65,.146],[1.7,.24],[1.75,.388],[1.8,.625],[1.85,1.002],[1.9,1.509],[1.95,2.002],[2.0,2.258],[2.05,2.184],[2.1,1.906],[2.15,1.604],[2.2,1.353],[2.25,1.134],[2.3,.921],[2.35,.711],[2.4,.52],[2.45,.36],[2.5,.235],[2.55,.145],[2.6,.085],[2.65,.047],[2.7,.024],[2.75,.012],[2.8,.006],[2.9,.001]];
const L5X6_S1_FIT: P = [[0.9,.001],[1.0,.002],[1.1,.005],[1.2,.01],[1.3,.021],[1.4,.039],[1.5,.069],[1.6,.113],[1.7,.175],[1.75,.212],[1.8,.252],[1.85,.296],[1.9,.343],[1.95,.392],[2.0,.446],[2.05,.508],[2.1,.59],[2.15,.703],[2.2,.861],[2.25,1.067],[2.3,1.303],[2.35,1.527],[2.4,1.685],[2.45,1.727],[2.5,1.634],[2.55,1.428],[2.6,1.16],[2.65,.887],[2.7,.651],[2.75,.472],[2.8,.346],[2.85,.26],[2.9,.202],[2.95,.159],[3.0,.124],[3.1,.076],[3.2,.044],[3.3,.024],[3.4,.012],[3.5,.006],[3.6,.003],[3.7,.001]];
const L5X6_S2_FIT: P = [[1.3,.002],[1.35,.004],[1.4,.008],[1.45,.014],[1.5,.024],[1.55,.041],[1.6,.067],[1.65,.104],[1.7,.158],[1.75,.229],[1.8,.32],[1.85,.433],[1.9,.562],[1.95,.704],[2.0,.85],[2.05,.99],[2.1,1.11],[2.15,1.2],[2.2,1.25],[2.25,1.261],[2.3,1.267],[2.35,1.367],[2.4,1.638],[2.45,1.864],[2.5,1.669],[2.55,1.124],[2.6,.64],[2.65,.379],[2.7,.25],[2.75,.17],[2.8,.114],[2.85,.073],[2.9,.045],[2.95,.027],[3.0,.016],[3.1,.005],[3.2,.001]];
const L5X6_LABELS = ["R1: μ1=2.23±0.42(a=0.37), μ2=2.32±0.11(a=0.65)", "R2: μ1=1.99±0.09(a=0.22), μ2=2.10±0.21(a=0.76)", "S1: μ1=2.31±0.39(a=0.58), μ2=2.45±0.15(a=0.44)", "S2: μ1=2.23±0.26(a=0.82), μ2=2.47±0.07(a=0.18)"];

// ---------------- styles & layout ----------------
const FONT = "'DejaVu Sans', 'Liberation Sans', sans-serif";
const STYLE = [
  { line: "#0000ff", fill: "rgba(0,0,255,0.24)", dash: [] as number[] },
  { line: "#ff0000", fill: "rgba(255,0,0,0.24)", dash: [5.5, 2.4] },
  { line: "#008000", fill: "rgba(0,128,0,0.24)", dash: [9.6, 2.4, 1.5, 2.4] },
  { line: "#800080", fill: "rgba(128,0,128,0.24)", dash: [1.5, 2.5] },
];

const PLOTS = [
  { title: "Distribution for native L0/X1", axes: [80, 27, 544, 257], yMax: 3.71, yTicks: Y_TICKS_35, legend: [9, 289],
    hist: [L0X1_R1_HIST, L0X1_R2_HIST, L0X1_S1_HIST, L0X1_S2_HIST], fit: [L0X1_R1_FIT, L0X1_R2_FIT, L0X1_S1_FIT, L0X1_S2_FIT], labels: L0X1_LABELS },
  { title: "Distribution for native L0/X2", axes: [80, 389, 544, 619], yMax: 2.91, yTicks: Y_TICKS_25, legend: [9, 652],
    hist: [L0X2_R1_HIST, L0X2_R2_HIST, L0X2_S1_HIST, L0X2_S2_HIST], fit: [L0X2_R1_FIT, L0X2_R2_FIT, L0X2_S1_FIT, L0X2_S2_FIT], labels: L0X2_LABELS },
  { title: "Distribution for native L1/X2", axes: [704, 389, 1169, 619], yMax: 3.31, yTicks: Y_TICKS_30, legend: [635, 652],
    hist: [L1X2_R1_HIST, L1X2_R2_HIST, L1X2_S1_HIST, L1X2_S2_HIST], fit: [L1X2_R1_FIT, L1X2_R2_FIT, L1X2_S1_FIT, L1X2_S2_FIT], labels: L1X2_LABELS },
  { title: "Distribution for native L0/X3", axes: [77, 758, 542, 988], yMax: 3.48, yTicks: Y_TICKS_30, legend: [7, 1021],
    hist: [L0X3_R1_HIST, L0X3_R2_HIST, L0X3_S1_HIST, L0X3_S2_HIST], fit: [L0X3_R1_FIT, L0X3_R2_FIT, L0X3_S1_FIT, L0X3_S2_FIT], labels: L0X3_LABELS },
  { title: "Distribution for native L2/X3", axes: [702, 758, 1167, 988], yMax: 3.075, yTicks: Y_TICKS_30, legend: [632, 1021],
    hist: [L2X3_R1_HIST, L2X3_R2_HIST, L2X3_S1_HIST, L2X3_S2_HIST], fit: [L2X3_R1_FIT, L2X3_R2_FIT, L2X3_S1_FIT, L2X3_S2_FIT], labels: L2X3_LABELS },
  { title: "Distribution for native L0/X4", axes: [77, 1121, 542, 1352], yMax: 2.88, yTicks: Y_TICKS_25, legend: [7, 1384],
    hist: [L0X4_R1_HIST, L0X4_R2_HIST, L0X4_S1_HIST, L0X4_S2_HIST], fit: [L0X4_R1_FIT, L0X4_R2_FIT, L0X4_S1_FIT, L0X4_S2_FIT], labels: L0X4_LABELS },
  { title: "Distribution for native L3/X4", axes: [702, 1121, 1167, 1352], yMax: 2.88, yTicks: Y_TICKS_25, legend: [632, 1384],
    hist: [L3X4_R1_HIST, L3X4_R2_HIST, L3X4_S1_HIST, L3X4_S2_HIST], fit: [L3X4_R1_FIT, L3X4_R2_FIT, L3X4_S1_FIT, L3X4_S2_FIT], labels: L3X4_LABELS },
  { title: "Distribution for native L4/X5", axes: [77, 1484, 542, 1715], yMax: 3.09, yTicks: Y_TICKS_30, legend: [7, 1747],
    hist: [L4X5_R1_HIST, L4X5_R2_HIST, L4X5_S1_HIST, L4X5_S2_HIST], fit: [L4X5_R1_FIT, L4X5_R2_FIT, L4X5_S1_FIT, L4X5_S2_FIT], labels: L4X5_LABELS },
  { title: "Distribution for native L5/X6", axes: [702, 1484, 1167, 1715], yMax: 2.865, yTicks: Y_TICKS_25, legend: [632, 1747],
    hist: [L5X6_R1_HIST, L5X6_R2_HIST, L5X6_S1_HIST, L5X6_S2_HIST], fit: [L5X6_R1_FIT, L5X6_R2_FIT, L5X6_S1_FIT, L5X6_S2_FIT], labels: L5X6_LABELS },
];

const PAD_L = 40; // y-axis block width
const PAD_T = 4;
const PAD_R = 6;
const PAD_B = 32; // x-axis block height

const framePlugin = {
  id: "frame",
  afterDatasetsDraw(chart: any) {
    const { ctx, chartArea: a } = chart;
    ctx.save();
    ctx.strokeStyle = "#555";
    ctx.lineWidth = 1;
    ctx.setLineDash([]);
    ctx.strokeRect(a.left + 0.5, a.top + 0.5, a.right - a.left - 1, a.bottom - a.top - 1);
    ctx.restore();
  },
};

function SubPlot({ p }: { p: any }) {
  const ref = useRef<HTMLCanvasElement>(null);
  const [L, T, R, B] = p.axes;
  const W = R - L + PAD_L + PAD_R;
  const H = B - T + PAD_T + PAD_B;

  useEffect(() => {
    if (!ref.current) return;
    const datasets: any[] = [];
    p.hist.forEach((h: P, i: number) => {
      const pts = h.map(([c, v]) => ({ x: c - HIST_BIN / 2, y: v }));
      pts.push({ x: h[h.length - 1][0] + HIST_BIN / 2, y: 0 });
      datasets.push({
        label: SERIES[i] + " (data)",
        data: pts,
        stepped: "after",
        fill: "origin",
        backgroundColor: STYLE[i].fill,
        borderColor: "rgba(0,0,0,0)",
        borderWidth: 0,
        pointRadius: 0,
        order: 20 - i,
      });
    });
    p.fit.forEach((f: P, i: number) => {
      const pts = [{ x: X_MIN, y: 0 }, ...f.map(([x, y]) => ({ x, y })), { x: X_MAX, y: 0 }];
      datasets.push({
        label: p.labels[i],
        data: pts,
        fill: false,
        borderColor: STYLE[i].line,
        borderWidth: 1.6,
        borderDash: STYLE[i].dash,
        pointRadius: 0,
        cubicInterpolationMode: "monotone",
        order: 10 - i,
      });
    });

    const chart = new Chart(ref.current, {
      type: "line",
      data: { datasets },
      plugins: [framePlugin],
      options: {
        animation: false,
        responsive: false,
        devicePixelRatio: 1,
        events: [],
        layout: { padding: { left: 0, top: PAD_T, right: PAD_R, bottom: 0 } },
        plugins: { legend: { display: false }, tooltip: { enabled: false }, title: { display: false } },
        scales: {
          x: {
            type: "linear",
            min: X_MIN,
            max: X_MAX,
            afterBuildTicks: (s: any) => { s.ticks = X_TICKS.map((v) => ({ value: v })); },
            afterFit: (s: any) => { s.height = PAD_B; },
            ticks: { callback: (v: any) => Number(v).toFixed(1), font: { size: 10, family: FONT }, color: "#333", padding: 1, maxRotation: 0, autoSkip: false },
            grid: { color: "#d2d2d2", lineWidth: 1, drawTicks: true, tickLength: 4, tickColor: "#555", tickWidth: 1, tickBorderDash: [] },
            border: { display: false, dash: [2, 2] },
            title: { display: true, text: "RMSD, Å", font: { size: 13.3, family: FONT }, color: "#222", padding: { top: 0, bottom: 0 } },
          },
          y: {
            type: "linear",
            min: 0,
            max: p.yMax,
            afterBuildTicks: (s: any) => { s.ticks = p.yTicks.map((v: number) => ({ value: v })); },
            afterFit: (s: any) => { s.width = PAD_L; },
            ticks: { callback: (v: any) => Number(v).toFixed(1), font: { size: 10, family: FONT }, color: "#333", padding: 2, autoSkip: false },
            grid: { color: "#d2d2d2", lineWidth: 1, drawTicks: true, tickLength: 4, tickColor: "#555", tickWidth: 1, tickBorderDash: [] },
            border: { display: false, dash: [2, 2] },
            title: { display: true, text: "Probability density", font: { size: 13.3, family: FONT }, color: "#222", padding: { top: 0, bottom: 0 } },
          },
        },
      } as any,
    });
    return () => chart.destroy();
  }, [p]);

  return (
    <>
      <div
        style={{
          position: "absolute", left: (L + R) / 2 - 250, width: 500, top: T - 18, height: 16,
          lineHeight: "16px", fontSize: 13.3, textAlign: "center", color: "#222", fontFamily: FONT, whiteSpace: "nowrap",
        }}
      >
        {p.title}
      </div>
      <canvas
        ref={ref}
        width={W}
        height={H}
        style={{ position: "absolute", left: L - PAD_L, top: T - PAD_T, width: W, height: H }}
      />
      <Legend p={p} />
    </>
  );
}

function Legend({ p }: { p: any }) {
  const [lx, ly] = p.legend;
  const rows: { col: number; row: number; kind: "data" | "fit"; s: number; text: string }[] = [];
  [0, 1, 2, 3].forEach((s) => {
    const col = s < 2 ? 0 : 1;
    const base = (s % 2) * 2;
    rows.push({ col, row: base, kind: "data", s, text: SERIES[s] + " (data)" });
    rows.push({ col, row: base + 1, kind: "fit", s, text: p.labels[s] });
  });
  return (
    <div
      style={{
        position: "absolute", left: lx, top: ly, width: 605, height: 61, boxSizing: "border-box",
        border: "1px solid #d8d8d8", borderRadius: 3, background: "rgba(255,255,255,0.9)", fontFamily: FONT,
      }}
    >
      {rows.map((r, k) => {
        const cy = 7 + r.row * 14.4;
        const hx = r.col === 0 ? 3 : 311;
        const tx = r.col === 0 ? 37 : 345;
        return (
          <React.Fragment key={k}>
            {r.kind === "data" ? (
              <div style={{ position: "absolute", left: hx, top: cy - 3.5, width: 25, height: 7, background: STYLE[r.s].fill }} />
            ) : (
              <svg style={{ position: "absolute", left: hx, top: cy - 3 }} width={25} height={6}>
                <line x1={0} y1={3} x2={25} y2={3} stroke={STYLE[r.s].line} strokeWidth={1.5}
                  strokeDasharray={STYLE[r.s].dash.length ? STYLE[r.s].dash.join(" ") : undefined} />
              </svg>
            )}
            <div
              style={{
                position: "absolute", left: tx, top: cy - 7, height: 14, lineHeight: "14px",
                fontSize: 9.7, color: "#222", whiteSpace: "nowrap",
              }}
            >
              {r.text}
            </div>
          </React.Fragment>
        );
      })}
    </div>
  );
}

export default function App() {
  return (
    <div
      style={{
        position: "absolute", left: 0, top: 0, width: 1246, height: 1805, overflow: "hidden",
        background: "#ffffff", fontFamily: FONT,
      }}
    >
      {PLOTS.map((p, i) => (
        <SubPlot key={i} p={p} />
      ))}
    </div>
  );
}
